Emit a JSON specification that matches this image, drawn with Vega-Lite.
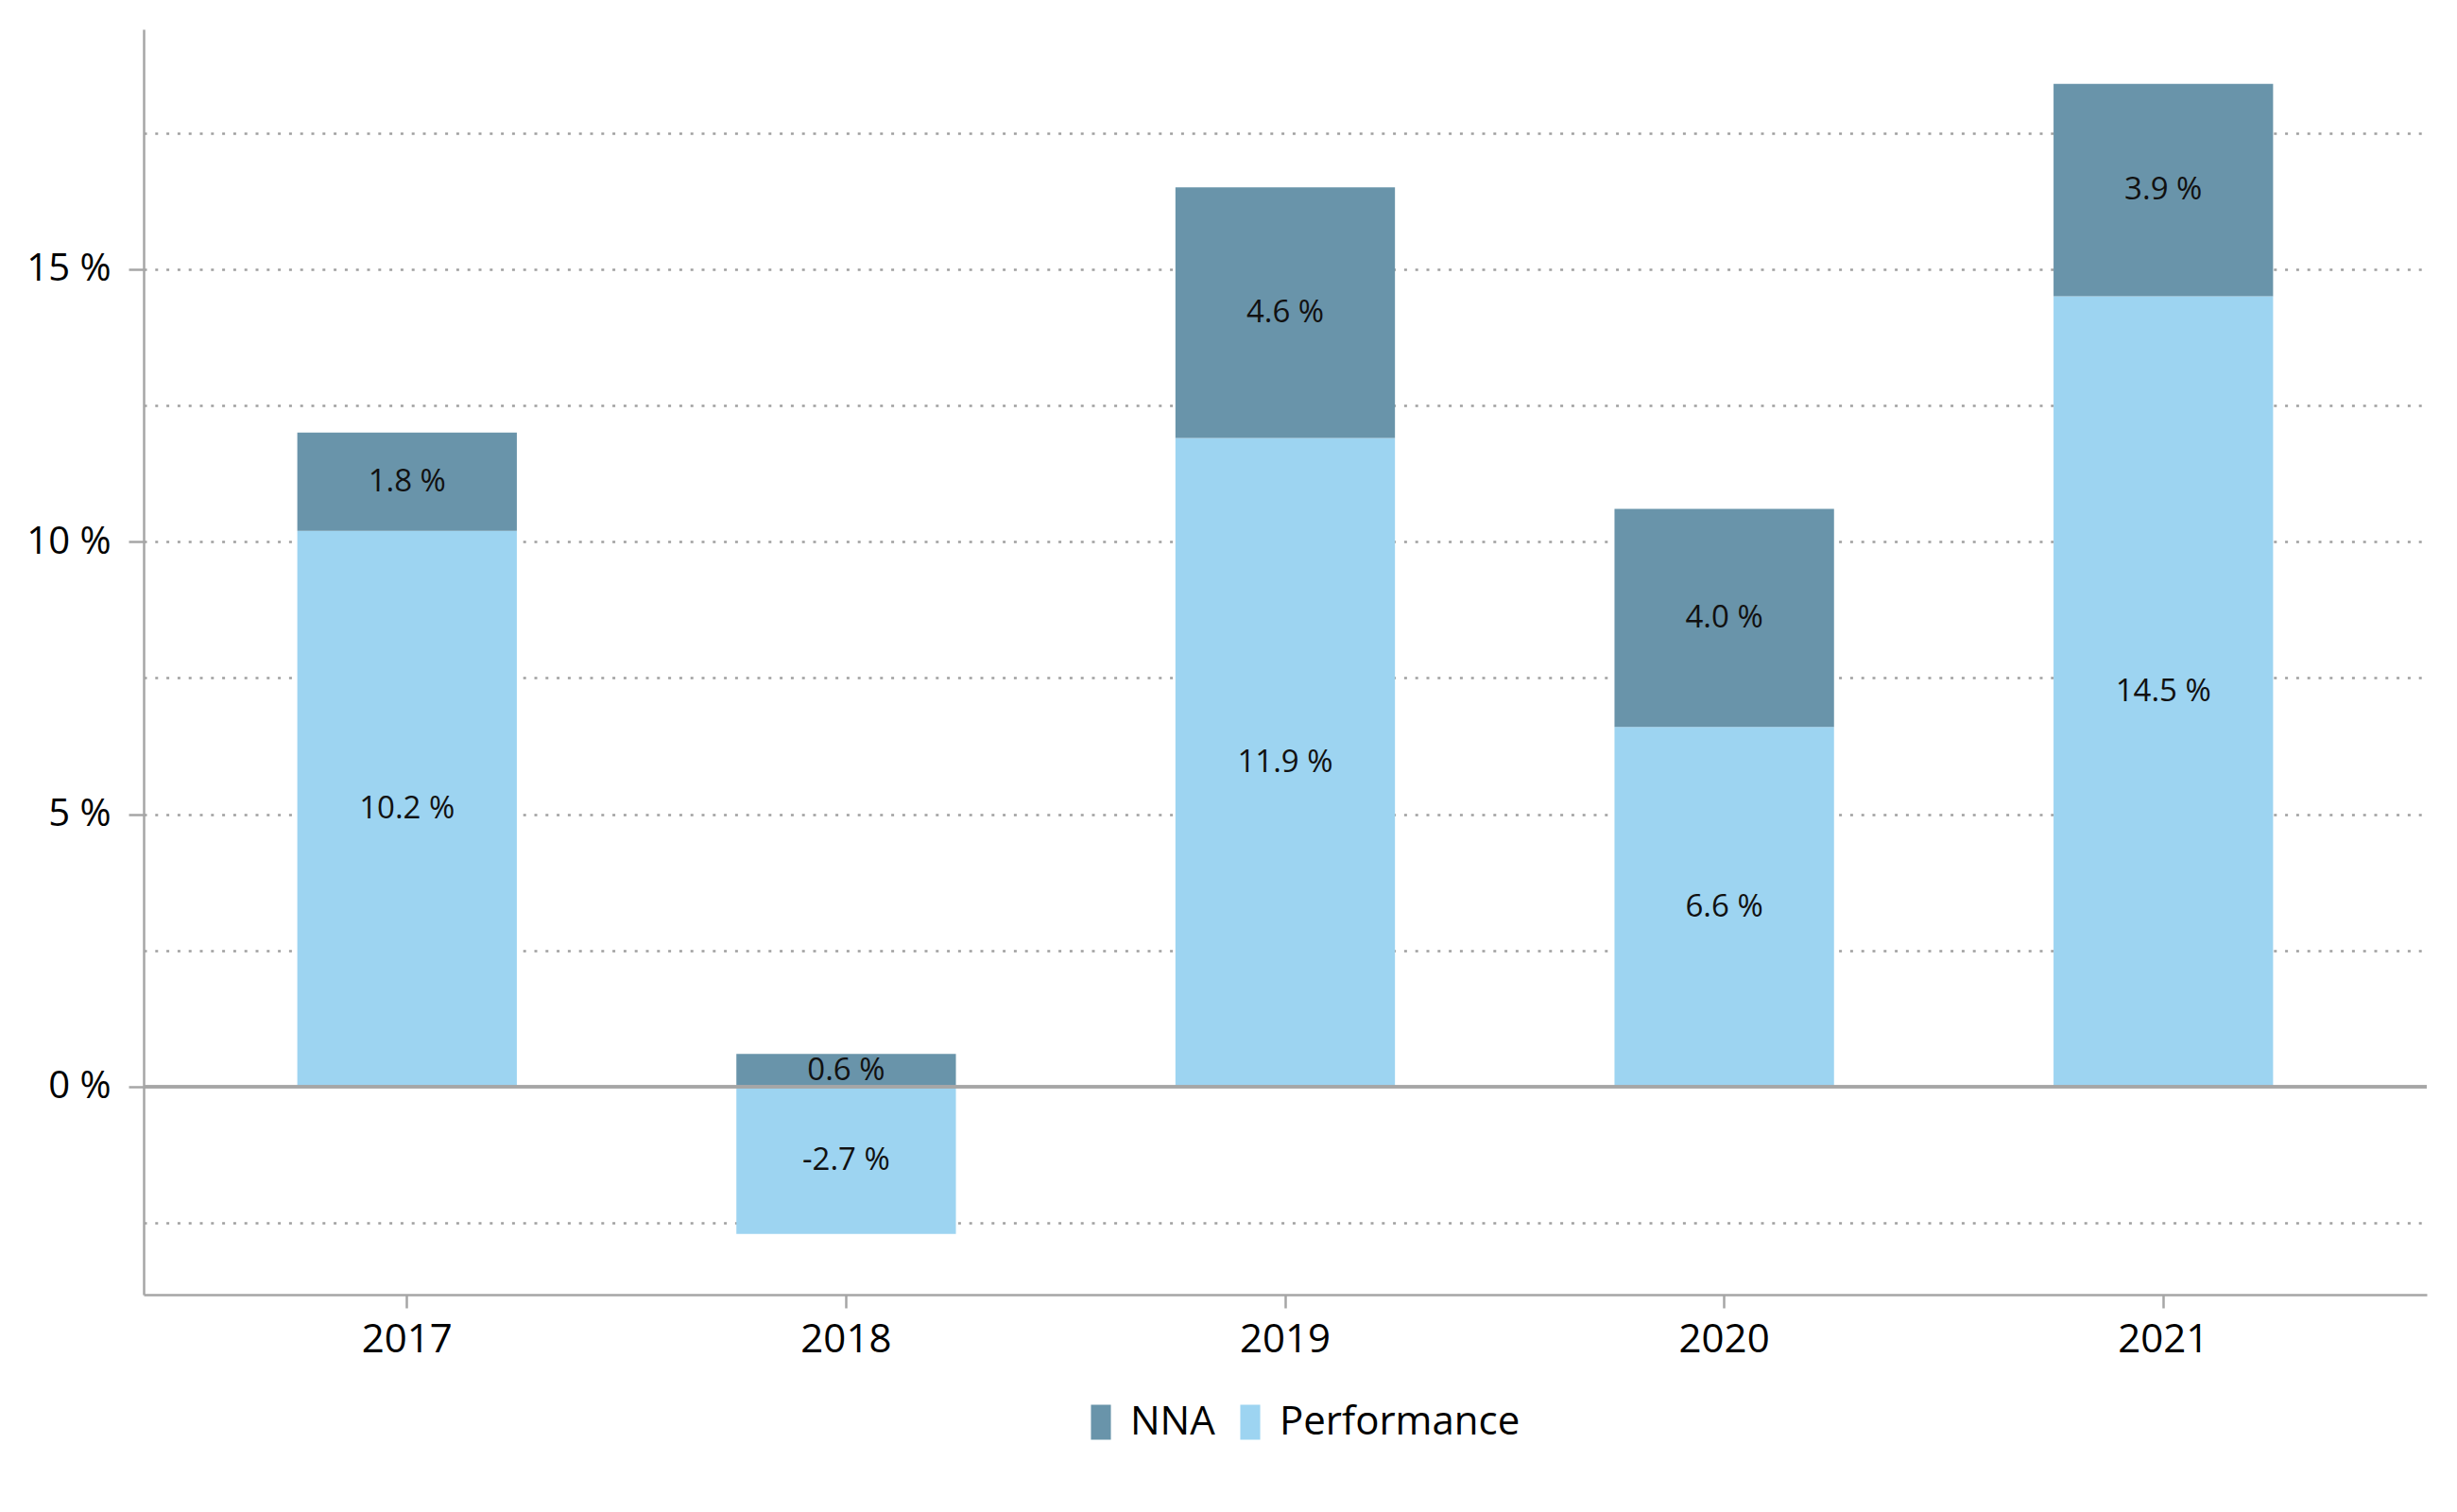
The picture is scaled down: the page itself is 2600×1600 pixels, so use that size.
{
  "$schema": "https://vega.github.io/schema/vega-lite/v6.json",
  "width": 2416,
  "height": 1339,
  "autosize": {"type": "none"},
  "padding": {"left": 152, "top": 31, "right": 32, "bottom": 230},
  "background": "white",
  "config": {"font": "Open Sans", "view": {"stroke": null}},
  "data": {
    "values": [
      {"year": "2017", "series": "Performance", "value": 10.2},
      {"year": "2017", "series": "NNA", "value": 1.8},
      {"year": "2018", "series": "Performance", "value": -2.7},
      {"year": "2018", "series": "NNA", "value": 0.6},
      {"year": "2019", "series": "Performance", "value": 11.9},
      {"year": "2019", "series": "NNA", "value": 4.6},
      {"year": "2020", "series": "Performance", "value": 6.6},
      {"year": "2020", "series": "NNA", "value": 4.0},
      {"year": "2021", "series": "Performance", "value": 14.5},
      {"year": "2021", "series": "NNA", "value": 3.9}
    ]
  },
  "layer": [
    {
      "mark": {"type": "bar"},
      "encoding": {
        "x": {
          "field": "year",
          "type": "nominal",
          "scale": {"paddingInner": 0.5, "paddingOuter": 0.35},
          "axis": {
            "title": null,
            "labelAngle": 0,
            "domainColor": "#a6a6a6",
            "domainWidth": 2.5,
            "tickColor": "#a6a6a6",
            "tickWidth": 2.5,
            "tickSize": 14,
            "labelFontSize": 42,
            "labelColor": "#000000",
            "labelPadding": 13,
            "grid": false
          }
        },
        "y": {
          "field": "value",
          "type": "quantitative",
          "stack": "zero",
          "scale": {"domain": [-3.815, 19.4], "nice": false, "zero": false},
          "axis": {
            "title": null,
            "values": [-2.5, 0, 2.5, 5, 7.5, 10, 12.5, 15, 17.5],
            "labelExpr": "datum.value % 5 === 0 ? datum.value + ' %' : ''",
            "labelOverlap": false,
            "labelFontSize": 40,
            "labelColor": "#000000",
            "labelPadding": 19,
            "domainColor": "#a6a6a6",
            "domainWidth": 2.5,
            "tickColor": "#a6a6a6",
            "tickWidth": 2.5,
            "tickSize": 16,
            "tickOpacity": {"condition": {"test": "datum.value % 5 === 0", "value": 1}, "value": 0},
            "grid": true,
            "gridColor": "#a0a0a0",
            "gridWidth": 2.5,
            "gridDash": [3, 8.8],
            "gridOpacity": {"condition": {"test": "datum.value === 0", "value": 0}, "value": 1}
          }
        },
        "color": {
          "field": "series",
          "type": "nominal",
          "scale": {"domain": ["NNA", "Performance"], "range": ["#6994aa", "#9dd4f1"]},
          "legend": {
            "orient": "none",
            "legendX": 992,
            "legendY": 1453,
            "direction": "horizontal",
            "title": null,
            "symbolType": "M-0.57,-1H0.57V1H-0.57Z",
            "symbolSize": 1369,
            "symbolStrokeWidth": 0,
            "labelFontSize": 42,
            "labelLimit": 0,
            "labelColor": "#000000",
            "labelOffset": 10,
            "columnPadding": 16,
            "padding": 0
          }
        },
        "order": {"field": "series", "sort": "descending"}
      }
    },
    {
      "mark": {"type": "rule", "color": "#a6a6a6", "strokeWidth": 2.5},
      "encoding": {"y": {"datum": 0, "type": "quantitative", "title": null}}
    },
    {
      "mark": {
        "type": "text",
        "fontSize": 33,
        "color": "#111111",
        "text": {"expr": "replace(format(datum.value, '.1f'), '\u2212', '-') + ' %'"}
      },
      "encoding": {
        "x": {"field": "year", "type": "nominal", "title": null},
        "y": {"field": "value", "type": "quantitative", "stack": "zero", "bandPosition": 0.5, "title": null},
        "detail": {"field": "series"},
        "order": {"field": "series", "sort": "descending"}
      }
    }
  ]
}
